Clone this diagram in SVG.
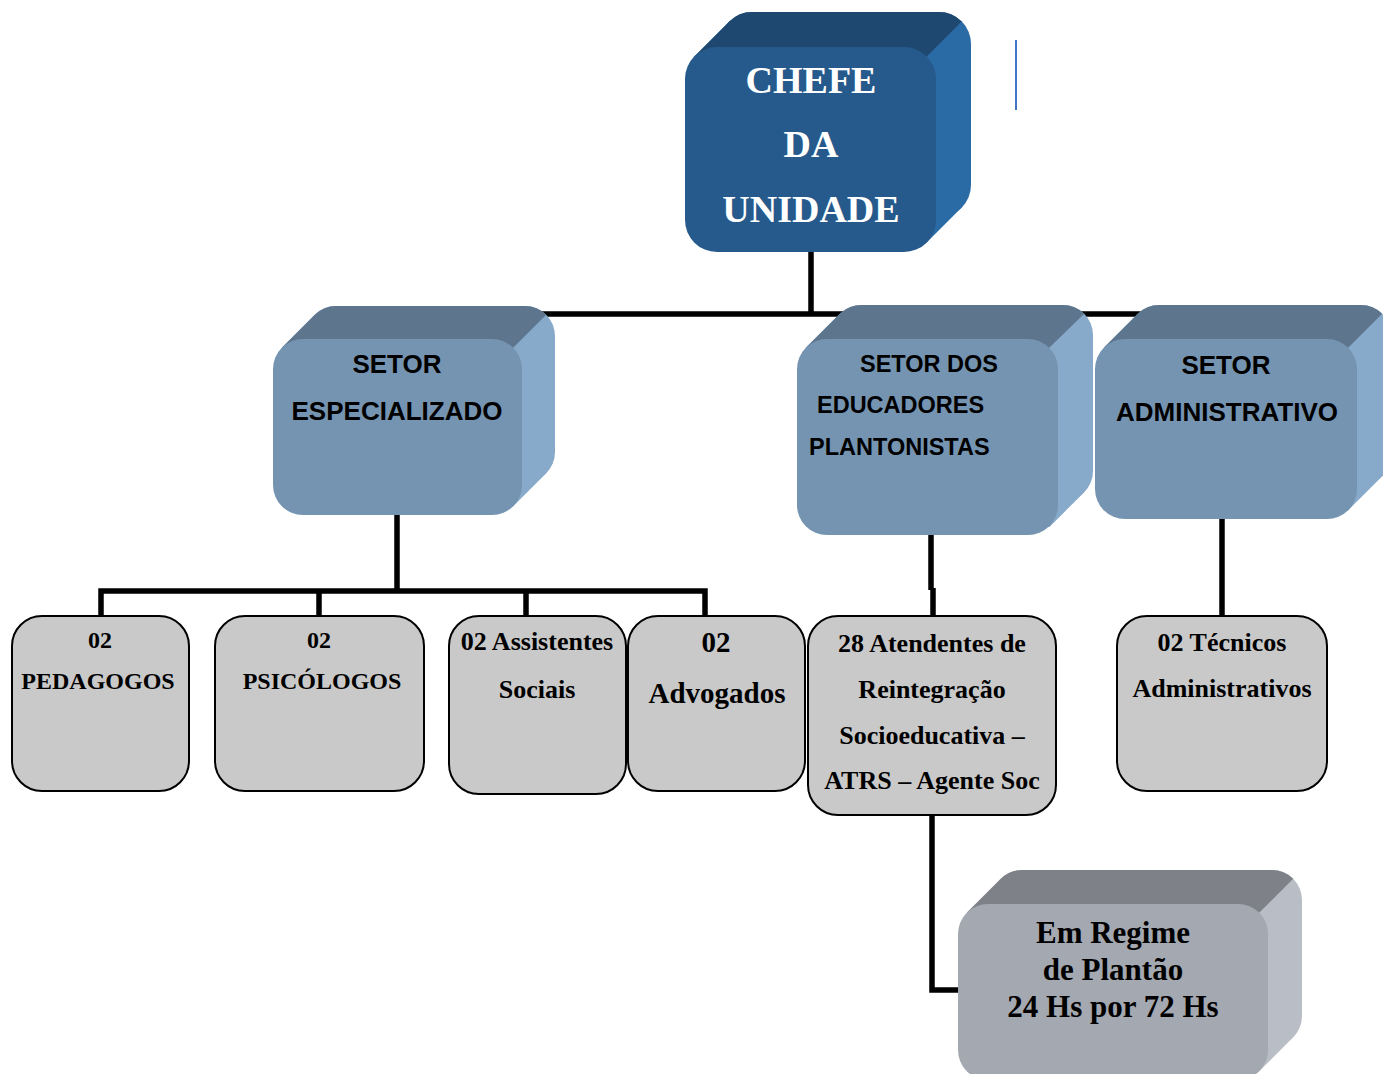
<svg xmlns="http://www.w3.org/2000/svg" width="1383" height="1074" viewBox="0 0 1383 1074">
<style>
.conn{fill:none;stroke:#000;stroke-width:5.5;stroke-linecap:butt;stroke-linejoin:miter}
.gbox{fill:#c9c9c9;stroke:#000;stroke-width:2}
.serif{font-family:"Liberation Serif","Times New Roman",serif;font-weight:bold;text-anchor:middle}
.sans{font-family:"Liberation Sans",Arial,sans-serif;font-weight:bold;fill:#000}
.blueF{fill:#265a8c}.blueT{fill:#1e486f}.blueR{fill:#2a6aa5}
.steelF{fill:#7594b1}.steelT{fill:#5e758e}.steelR{fill:#88aaca}
.grayF{fill:#a4a8b0}.grayT{fill:#7e8288}.grayR{fill:#b8bdc6}
</style>
<rect width="1383" height="1074" fill="#fff"/>
<line x1="1016" y1="40" x2="1016" y2="110" stroke="#4472c4" stroke-width="2"/>
<g id="connectors">
<path class="conn" d="M811,252 V314 M400,314 H1225"/>
<path class="conn" d="M397,515 V591 M101,617 V591 H705 V617 M319,591 V617 M526,591 V617"/>
<path class="conn" d="M931,535 V590 M933,588 V617"/>
<path class="conn" d="M1222,519 V617"/>
<path class="conn" d="M932,815 V990 H960"/>
</g>
<g id="chefe">
<rect class="blueR" x="720" y="12" width="251" height="205" rx="32"/>
<polygon class="blueR" points="694.4,56.4 729.4,21.4 961.6,207.6 926.6,242.6"/>
<path class="blueT" d="M694.4,56.4 L729.4,21.4 A32,32 0 0 1 752,12 H939 A32,32 0 0 1 961.6,21.4 L926.6,56.4 Z"/>
<rect class="blueF" x="685" y="47" width="251" height="205" rx="32"/>
<text class="serif" fill="#fff" font-size="38" x="811" y="93">CHEFE</text>
<text class="serif" fill="#fff" font-size="38" x="811" y="157">DA</text>
<text class="serif" fill="#fff" font-size="38" x="811" y="222">UNIDADE</text>
</g>
<g id="setor-especializado">
<rect class="steelR" x="306" y="306" width="249" height="176" rx="30"/>
<polygon class="steelR" points="281.8,347.8 314.8,314.8 546.2,473.2 513.2,506.2"/>
<path class="steelT" d="M281.8,347.8 L314.8,314.8 A30,30 0 0 1 336,306 H525 A30,30 0 0 1 546.2,314.8 L513.2,347.8 Z"/>
<rect class="steelF" x="273" y="339" width="249" height="176" rx="30"/>
<text class="sans" font-size="26" x="397" y="373" text-anchor="middle">SETOR</text>
<text class="sans" font-size="26" x="397" y="420" text-anchor="middle">ESPECIALIZADO</text>
</g>
<g id="setor-educadores">
<rect class="steelR" x="832" y="305" width="261" height="196" rx="30"/>
<polygon class="steelR" points="805.8,347.8 840.8,312.8 1084.2,492.2 1049.2,527.2"/>
<path class="steelT" d="M805.8,347.8 L840.8,312.8 A30,30 0 0 1 862,305 H1063 A30,30 0 0 1 1084.2,313.8 L1049.2,347.8 Z"/>
<rect class="steelF" x="797" y="339" width="261" height="196" rx="30"/>
<text class="sans" font-size="23.5" x="860" y="372">SETOR DOS</text>
<text class="sans" font-size="23.5" x="817" y="413">EDUCADORES</text>
<text class="sans" font-size="23.5" x="809" y="455">PLANTONISTAS</text>
</g>
<g id="setor-administrativo">
<rect class="steelR" x="1129" y="305" width="262" height="180" rx="30"/>
<polygon class="steelR" points="1103.8,347.8 1137.8,313.8 1382.2,476.2 1348.2,510.2"/>
<path class="steelT" d="M1103.8,347.8 L1137.8,313.8 A30,30 0 0 1 1159,305 H1361 A30,30 0 0 1 1382.2,313.8 L1348.2,347.8 Z"/>
<rect class="steelF" x="1095" y="339" width="262" height="180" rx="30"/>
<text class="sans" font-size="26" x="1226" y="374" text-anchor="middle">SETOR</text>
<text class="sans" font-size="26" x="1227" y="421" text-anchor="middle">ADMINISTRATIVO</text>
</g>
<g id="pedagogos">
<rect class="gbox" x="12" y="616" width="177" height="175" rx="30"/>
<text class="serif" font-size="24" x="100" y="648">02</text>
<text class="serif" font-size="24" x="98" y="689">PEDAGOGOS</text>
</g>
<g id="psicologos">
<rect class="gbox" x="215" y="616" width="209" height="175" rx="30"/>
<text class="serif" font-size="24" x="319" y="648">02</text>
<text class="serif" font-size="24" x="322" y="689">PSICÓLOGOS</text>
</g>
<g id="assistentes">
<rect class="gbox" x="449" y="616" width="177" height="178" rx="30"/>
<text class="serif" font-size="26" x="537" y="650">02 Assistentes</text>
<text class="serif" font-size="26" x="537" y="698">Sociais</text>
</g>
<g id="advogados">
<rect class="gbox" x="628" y="616" width="177" height="175" rx="30"/>
<text class="serif" font-size="29" x="716" y="652">02</text>
<text class="serif" font-size="29" x="717" y="703">Advogados</text>
</g>
<g id="atendentes">
<rect class="gbox" x="808" y="616" width="248" height="199" rx="30"/>
<text class="serif" font-size="26" x="932" y="652">28 Atendentes de</text>
<text class="serif" font-size="26" x="932" y="698">Reintegração</text>
<text class="serif" font-size="26" x="932" y="744">Socioeducativa –</text>
<text class="serif" font-size="26" x="932" y="789">ATRS – Agente Soc</text>
</g>
<g id="tecnicos">
<rect class="gbox" x="1117" y="616" width="210" height="175" rx="30"/>
<text class="serif" font-size="26" x="1222" y="651">02 Técnicos</text>
<text class="serif" font-size="26" x="1222" y="697">Administrativos</text>
</g>
<g id="regime-plantao">
<rect class="grayR" x="992" y="870" width="310" height="176" rx="30"/>
<polygon class="grayR" points="966.8,912.8 1000.8,878.8 1293.2,1037.2 1259.2,1071.2"/>
<path class="grayT" d="M966.8,912.8 L1000.8,878.8 A30,30 0 0 1 1022,870 H1272 A30,30 0 0 1 1293.2,878.8 L1259.2,912.8 Z"/>
<rect class="grayF" x="958" y="904" width="310" height="176" rx="30"/>
<text class="serif" font-size="31" x="1113" y="943">Em Regime</text>
<text class="serif" font-size="31" x="1113" y="980">de Plantão</text>
<text class="serif" font-size="31" x="1113" y="1017">24 Hs por 72 Hs</text>
</g>
</svg>
